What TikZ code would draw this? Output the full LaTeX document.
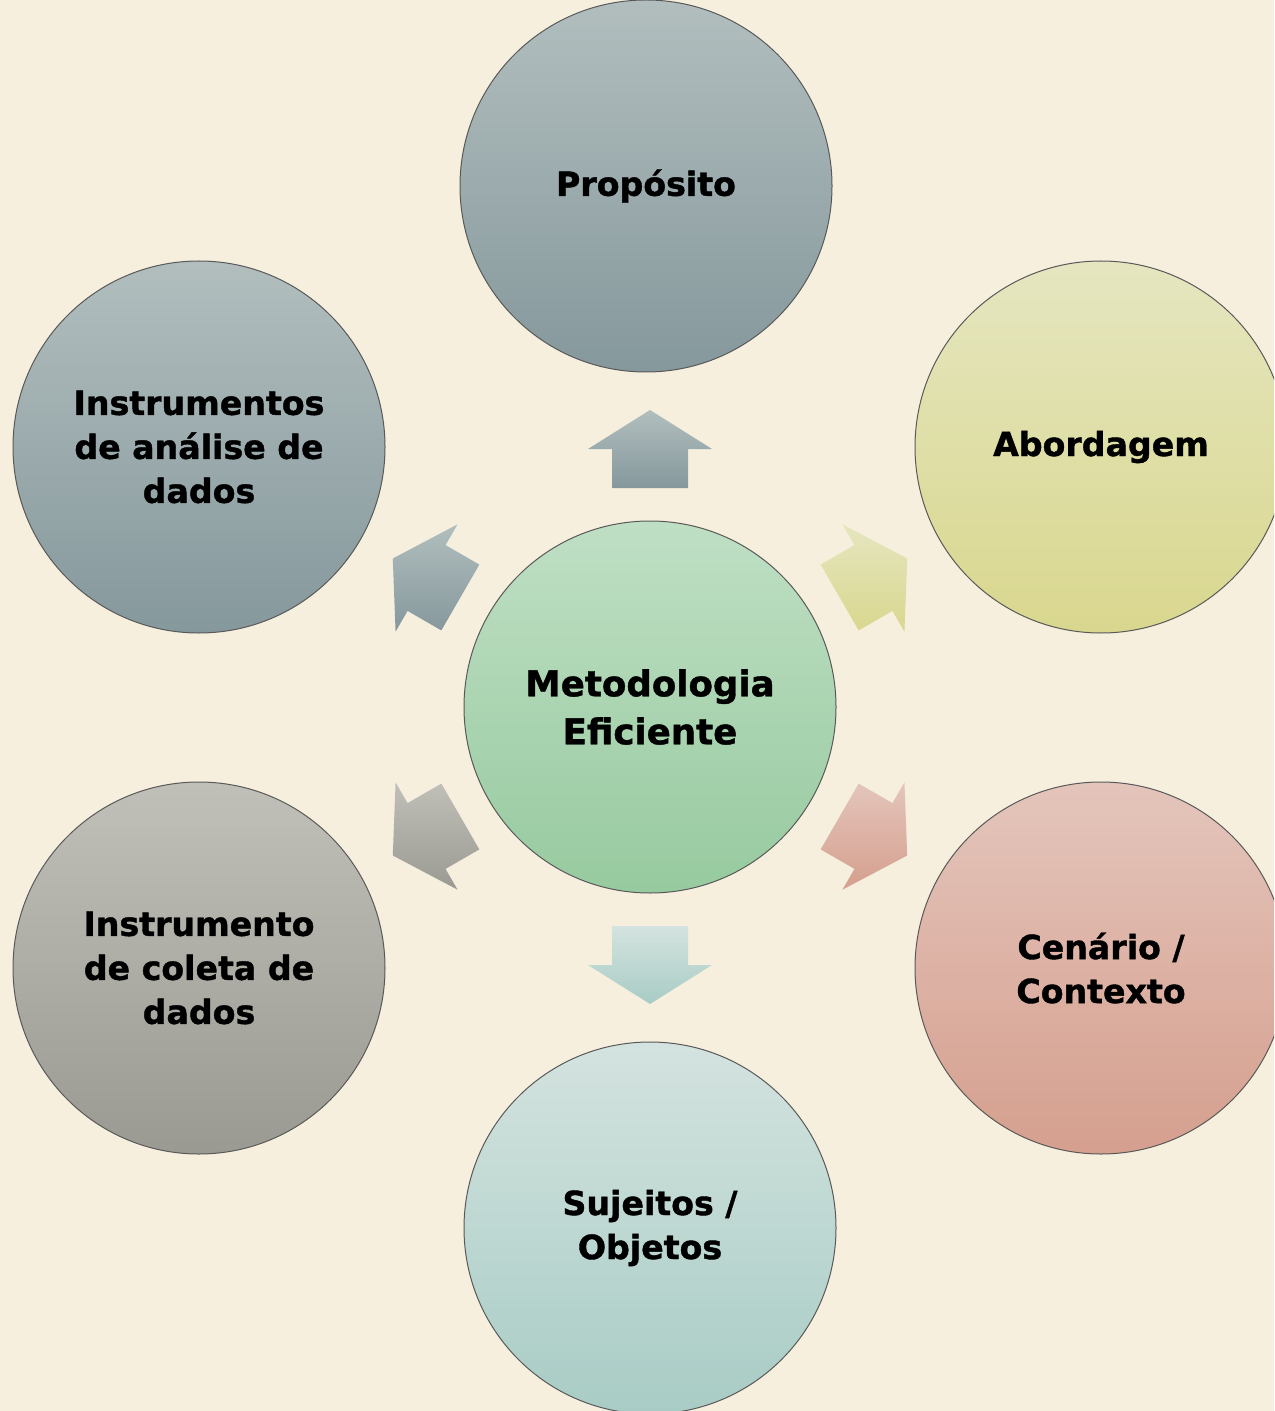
\documentclass[tikz,border=0pt]{standalone}
\usepackage{fontspec}
\setmainfont[BoldFeatures={FakeBold=1.2}]{DejaVu Sans}
\usetikzlibrary{calc}
\definecolor{bg}{HTML}{F6EFDE}
\definecolor{gbT}{HTML}{B2BEBE}
\definecolor{gbB}{HTML}{85989C}
\definecolor{yT}{HTML}{E5E6C0}
\definecolor{yB}{HTML}{D9D78E}
\definecolor{rT}{HTML}{E4C5BB}
\definecolor{rB}{HTML}{D59F8E}
\definecolor{tT}{HTML}{D4E3DF}
\definecolor{tB}{HTML}{A8CCC5}
\definecolor{gT}{HTML}{C0C0B9}
\definecolor{gB}{HTML}{9A9A93}
\definecolor{cT}{HTML}{BFDFC4}
\definecolor{cB}{HTML}{97CA9F}
\newcommand\blockarr[3]{%
  \shade[top color=#2,bottom color=#3]
    ($(meto.center)+(#1:297)$)
    -- ($(meto.center)+(#1:258)+(#1+90:62)$)
    -- ($(meto.center)+(#1:258)+(#1+90:38)$)
    -- ($(meto.center)+(#1:219)+(#1+90:38)$)
    -- ($(meto.center)+(#1:219)+(#1-90:38)$)
    -- ($(meto.center)+(#1:258)+(#1-90:38)$)
    -- ($(meto.center)+(#1:258)+(#1-90:62)$)
    -- cycle;}
\begin{document}
\begin{tikzpicture}[x=0.5pt,y=-0.5pt,
  bubble/.style={circle, draw=black!65, line width=0.5pt, minimum size=186pt,
    inner sep=0pt, outer sep=0pt, align=center, text=black,
    font=\fontsize{16.6}{22}\selectfont\bfseries}]
\useasboundingbox (0,0) rectangle (1274,1411);
\fill[bg] (0,0) rectangle (1274,1411);
\clip (0,0) rectangle (1274,1411);
\node[bubble, top color=cT, bottom color=cB,
  font=\fontsize{17.8}{24}\selectfont\bfseries] (meto) at (650,707) {Metodologia\\Eficiente};
\node[bubble, top color=gbT, bottom color=gbB] (prop) at (646,186) {Propósito};
\node[bubble, top color=yT, bottom color=yB] (abor) at (1101,447) {Abordagem};
\node[bubble, top color=rT, bottom color=rB] (cena) at (1101,968) {Cenário /\\Contexto};
\node[bubble, top color=tT, bottom color=tB] (suje) at (650,1228) {Sujeitos /\\Objetos};
\node[bubble, top color=gT, bottom color=gB] (cole) at (199,968) {Instrumento\\de coleta de\\dados};
\node[bubble, top color=gbT, bottom color=gbB] (anal) at (199,447) {Instrumentos\\de análise de\\dados};
\blockarr{-90}{gbT}{gbB}
\blockarr{-30}{yT}{yB}
\blockarr{30}{rT}{rB}
\blockarr{90}{tT}{tB}
\blockarr{150}{gT}{gB}
\blockarr{210}{gbT}{gbB}
\end{tikzpicture}
\end{document}
